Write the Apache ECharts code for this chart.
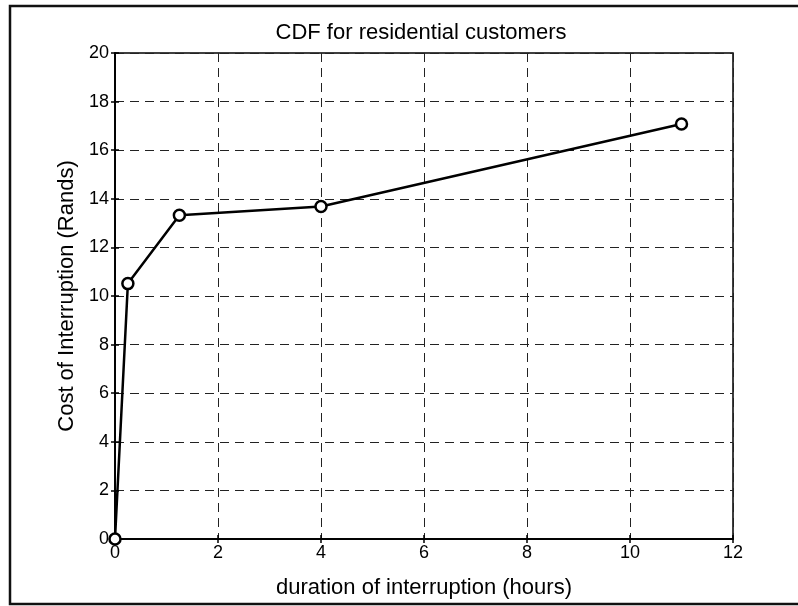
<!DOCTYPE html>
<html>
<head>
<meta charset="utf-8">
<script src="https://cdn.jsdelivr.net/npm/echarts@6/dist/echarts.min.js"></script>
<style>html,body{margin:0;padding:0;background:#fff;}#c{width:798px;height:606px;}</style>
</head>
<body>
<div id="c"></div>
<script>
const durationHours = [0, 0.25, 1.25, 4, 11];
const costRands = [0, 10.51, 13.32, 13.68, 17.08];
const xTicks = [0, 2, 4, 6, 8, 10, 12];
const yTicks = [0, 2, 4, 6, 8, 10, 12, 14, 16, 18, 20];
const titleText = 'CDF for residential customers';
const xName = 'duration of interruption (hours)';
const yName = 'Cost of Interruption (Rands)';

const font = 'Liberation Sans, Arial, sans-serif';
const chart = echarts.init(document.getElementById('c'), null, {renderer: 'canvas'});
const dash = {color: '#222', width: 1, type: [9, 6]};
const common = {
  axisLine: {show: true, lineStyle: {color: '#000', width: 1.5}},
  axisTick: {show: true, inside: true, length: 4, lineStyle: {color: '#000', width: 1.5}},
};
chart.setOption({
  animation: false,
  backgroundColor: '#fff',
  title: {
    text: titleText, left: 421, top: 22, textAlign: 'center', padding: 0,
    textStyle: {fontFamily: font, fontSize: 22, fontWeight: 'normal', color: '#000'}
  },
  grid: {left: 115, right: 65, top: 53, bottom: 67, show: true, borderColor: '#000', borderWidth: 1.5},
  xAxis: [{
    type: 'value', min: xTicks[0], max: xTicks[xTicks.length - 1], interval: 2,
    position: 'bottom',
    name: xName, nameLocation: 'middle', nameGap: 38,
    nameTextStyle: {fontFamily: font, fontSize: 22, color: '#000'},
    axisLabel: {fontFamily: font, fontSize: 18, color: '#000', margin: 5},
    splitLine: {show: true, lineStyle: dash},
    ...common
  }, {
    type: 'value', min: xTicks[0], max: xTicks[xTicks.length - 1], interval: 2,
    position: 'top', axisLabel: {show: false}, splitLine: {show: false},
    ...common
  }],
  yAxis: [{
    type: 'value', min: yTicks[0], max: yTicks[yTicks.length - 1], interval: 2,
    position: 'left',
    name: yName, nameLocation: 'middle', nameGap: 36, nameRotate: 90,
    nameTextStyle: {fontFamily: font, fontSize: 22, color: '#000'},
    axisLabel: {fontFamily: font, fontSize: 18, color: '#000', margin: 6},
    splitLine: {show: true, lineStyle: dash},
    ...common
  }, {
    type: 'value', min: yTicks[0], max: yTicks[yTicks.length - 1], interval: 2,
    position: 'right', axisLabel: {show: false}, splitLine: {show: false},
    ...common
  }],
  graphic: [{
    type: 'rect', silent: true, z: -1,
    shape: {x: 10, y: 6, width: 800, height: 598},
    style: {fill: 'none', stroke: '#111', lineWidth: 2.5}
  }],
  series: [{
    type: 'line',
    data: durationHours.map((d, i) => [d, costRands[i]]),
    symbol: 'circle', symbolSize: 11, showSymbol: true,
    lineStyle: {color: '#000', width: 2.5},
    itemStyle: {color: '#fff', borderColor: '#000', borderWidth: 2.5},
    z: 5
  }]
});
</script>
</body>
</html>
